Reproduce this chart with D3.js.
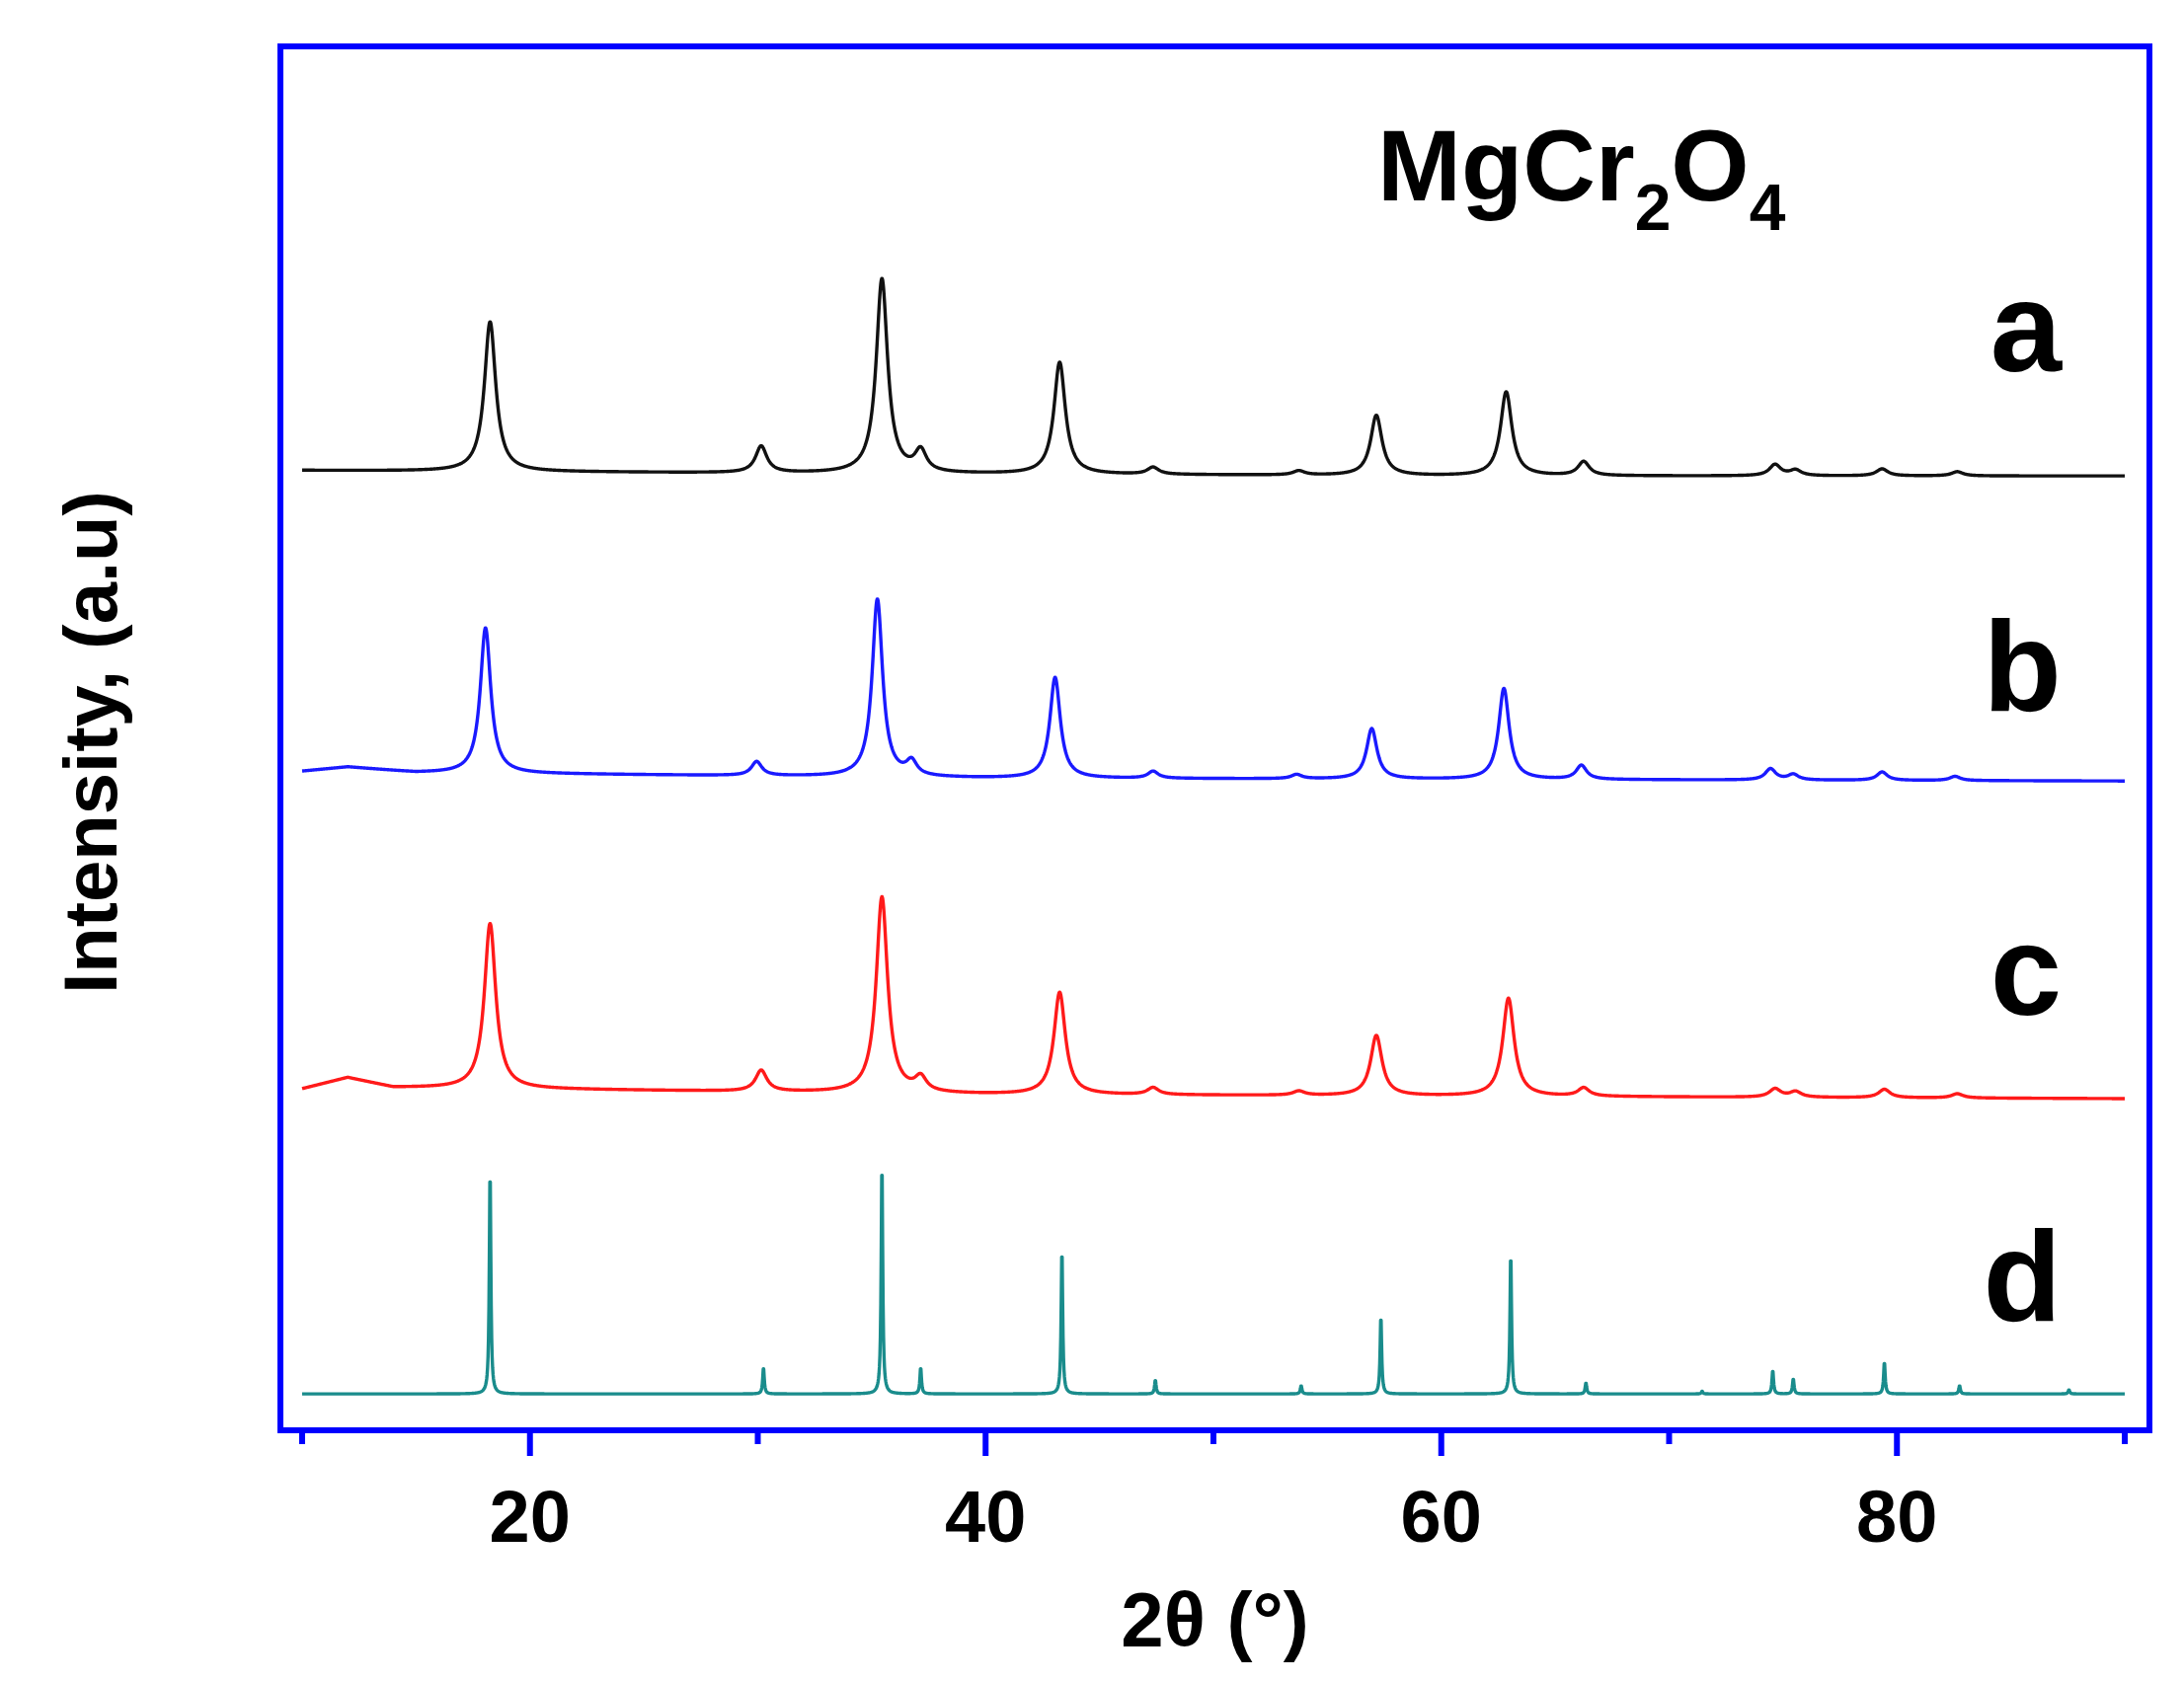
<!DOCTYPE html>
<html><head><meta charset="utf-8">
<script src="https://cdn.jsdelivr.net/npm/d3@7"></script>
<style>body{margin:0;background:#fff}text{font-family:"Liberation Sans",Arial,sans-serif;font-weight:bold}</style>
</head><body><svg id="chart"></svg>
<script>
var W = 2212, H = 1704;
var seriesNames = ['a', 'b', 'c', 'd'];
var seriesColors = ['#111111', '#1a1aff', '#ff1a1a', '#1a8c8c'];
var peakWidths = [0.6, 0.55, 0.6, 0.08];
// baseline shape per series: [2θ, level]
var baseA = [[10, 686], [30, 684], [60, 682], [90, 682]];
var baseB = [[10, 471], [12, 474], [15, 470], [40, 466], [90, 464]];
var baseC = [[10, 244], [12, 252], [14, 245], [40, 240], [90, 237]];
var baseD = [[10, 26], [90, 26]];
// peaks per series: [2θ, height]
var peaksA = [[18.25, 107], [30.15, 19], [35.45, 139], [37.15, 15], [43.25, 80], [47.35, 5], [53.75, 3], [57.15, 43], [62.85, 60], [66.25, 10], [74.65, 8], [75.55, 4], [79.35, 5], [82.65, 3]];
var peaksB = [[18.05, 104], [29.95, 10], [35.25, 127], [36.75, 10], [43.05, 72], [47.35, 5], [53.65, 3], [56.95, 36], [62.75, 65], [66.15, 10], [74.45, 8], [75.45, 4], [79.35, 6], [82.55, 3]];
var peaksC = [[18.25, 118], [30.15, 15], [35.45, 140], [37.15, 10], [43.25, 73], [47.35, 5], [53.75, 3], [57.15, 43], [62.95, 70], [66.25, 6], [74.65, 6], [75.55, 4], [79.45, 6], [82.65, 3]];
var peaksD = [[18.25, 161], [30.25, 19], [35.45, 166], [37.15, 19], [43.35, 104], [47.45, 10], [53.85, 6], [57.35, 56], [63.05, 101], [66.35, 8], [71.45, 2], [74.55, 17], [75.45, 11], [79.45, 23], [82.75, 6], [87.55, 3]];
var xTicks = [10, 20, 30, 40, 50, 60, 70, 80, 90];
var xLabels = [20, 40, 60, 80];

var bases = [baseA, baseB, baseC, baseD], peaks = [peaksA, peaksB, peaksC, peaksD];
var box = {l: 284, r: 2177, t: 47, b: 1449};
var x = d3.scaleLinear().domain([10, 90]).range([306, 2152]);
var y = d3.scaleLinear().domain([0, 989]).range([box.b, box.t]);
var svg = d3.select('#chart').attr('width', W).attr('height', H);

function profile(i) {
  var bx = bases[i].map(function (d) { return d[0]; }), by = bases[i].map(function (d) { return d[1]; });
  var lvl = d3.scaleLinear().domain(bx).range(by);
  var w = peakWidths[i] / 2;
  return d3.range(10, 90.001, 0.02).map(function (t) {
    var v = lvl(t);
    peaks[i].forEach(function (p) { var u = (t - p[0]) / w; v += p[1] / (1 + u * u); });
    return [t, v];
  });
}
var line = d3.line().x(function (d) { return x(d[0]); }).y(function (d) { return y(d[1]); });
seriesNames.forEach(function (n, i) {
  svg.append('path').attr('d', line(profile(i))).attr('fill', 'none')
    .attr('stroke', seriesColors[i]).attr('stroke-width', 3.4).attr('stroke-linejoin', 'round');
});

svg.append('rect').attr('x', box.l).attr('y', box.t).attr('width', box.r - box.l).attr('height', box.b - box.t)
  .attr('fill', 'none').attr('stroke', '#0000ff').attr('stroke-width', 6);
svg.selectAll('.tk').data(xTicks).enter().append('line')
  .attr('x1', function (d) { return x(d); }).attr('x2', function (d) { return x(d); })
  .attr('y1', box.b).attr('y2', function (d) { return box.b + (d % 20 === 0 ? 26 : 14); })
  .attr('stroke', '#0000ff').attr('stroke-width', 6);
svg.selectAll('.tl').data(xLabels).enter().append('text')
  .attr('x', function (d) { return x(d); }).attr('y', 1562).attr('text-anchor', 'middle')
  .attr('font-size', 74).text(function (d) { return d; });
svg.append('text').attr('x', (box.l + box.r) / 2).attr('y', 1668).attr('text-anchor', 'middle')
  .attr('font-size', 78).text('2θ (°)');
svg.append('text').attr('transform', 'translate(118,752) rotate(-90)').attr('text-anchor', 'middle')
  .attr('font-size', 76).text('Intensity, (a.u)');

var title = svg.append('text').attr('x', 1395).attr('y', 203).attr('font-size', 102);
title.append('tspan').text('MgCr');
title.append('tspan').attr('font-size', 66).attr('dy', 30).text('2');
title.append('tspan').attr('dy', -30).text('O');
title.append('tspan').attr('font-size', 66).attr('dy', 30).text('4');

var letterY = [376, 720, 1028, 1338];
seriesNames.forEach(function (n, i) {
  svg.append('text').attr('x', 2088).attr('y', letterY[i]).attr('text-anchor', 'end')
    .attr('font-size', 130).text(n);
});
</script></body></html>
